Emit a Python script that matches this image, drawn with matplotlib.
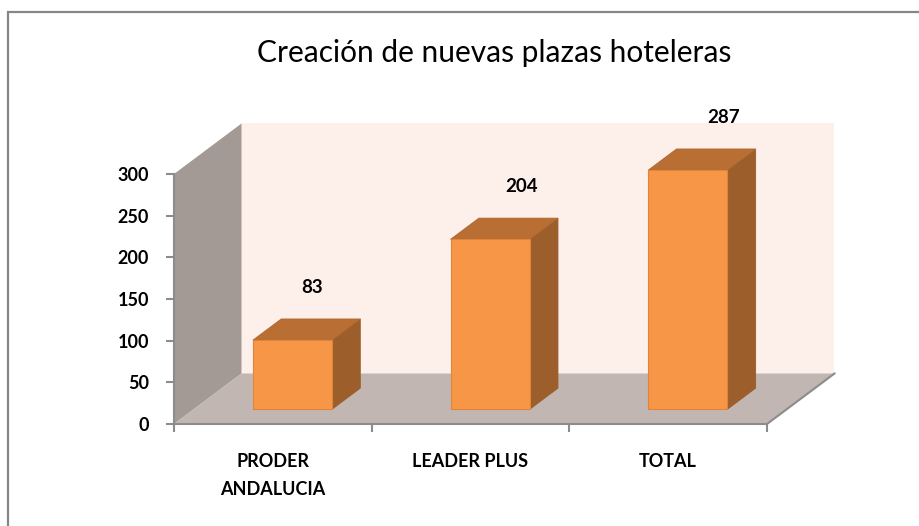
import matplotlib
matplotlib.use("Agg")
import matplotlib.pyplot as plt
from matplotlib.patches import Polygon, Rectangle

# ---- data ----
categories = ["PRODER\nANDALUCIA", "LEADER PLUS", "TOTAL"]
values = [83, 204, 287]
y_ticks = [0, 50, 100, 150, 200, 250, 300]
title = "Creación de nuevas plazas hoteleras"

# ---- layout (pixels) ----
W, H = 920, 526
FX0, FX1 = 174, 767          # front plane left/right
FY0, FY1 = 424, 174          # front plane y of 0 and 300 (from top)
YMAX = 300
PX_PER_CAT = (FX1 - FX0) / len(categories)
PX_PER_VAL = (FY0 - FY1) / YMAX
DX = 67.5 / PX_PER_CAT       # depth offset in data units
DY = 50.5 / PX_PER_VAL
D0, D1 = 0.29, 0.71          # bar depth span (fraction)
BW = 0.40                    # bar width (category units)
label_dx_px = [20, 31, 36]
label_dy_px = 47.5

plt.rcParams['font.family'] = ['Lato', 'DejaVu Sans']

fig = plt.figure(figsize=(W / 100, H / 100), dpi=100)
fig.patch.set_facecolor('white')
ax = fig.add_axes([FX0 / W, 1 - FY0 / H, (FX1 - FX0) / W, (FY0 - FY1) / H])
ax.set_xlim(-0.5, len(categories) - 0.5)
ax.set_ylim(0, YMAX)
ax.patch.set_visible(False)

xl, xr = -0.5, len(categories) - 0.5
back_c, floor_c, wall_c = '#FDEFEA', '#C1B6B2', '#A39A95'
# back wall
ax.add_patch(Polygon([(xl + DX, DY), (xr + DX, DY), (xr + DX, YMAX + DY), (xl + DX, YMAX + DY)],
                     closed=True, fc=back_c, ec='none', clip_on=False, zorder=0))
# left wall
ax.add_patch(Polygon([(xl, 0), (xl + DX, DY), (xl + DX, YMAX + DY), (xl, YMAX)],
                     closed=True, fc=wall_c, ec='none', clip_on=False, zorder=0.5))
# floor
ax.add_patch(Polygon([(xl, 0), (xr, 0), (xr + DX, DY), (xl + DX, DY)],
                     closed=True, fc=floor_c, ec='none', clip_on=False, zorder=0.6))
ax.plot([xr, xr + DX], [0, DY], color='#8C8C8C', lw=1.5, clip_on=False, zorder=0.7)

front_c, top_c, side_c = '#F79646', '#B96E33', '#9C5F2B'
edge_c = '#E0843C'
for i, v in enumerate(values):
    a = i - BW / 2
    b = i + BW / 2
    fx, fy = D0 * DX, D0 * DY
    bx, by = D1 * DX, D1 * DY
    # side
    ax.add_patch(Polygon([(b + fx, fy), (b + bx, by), (b + bx, v + by), (b + fx, v + fy)],
                         closed=True, fc=side_c, ec='#9A5C28', lw=0.6, clip_on=False, zorder=2))
    # top
    ax.add_patch(Polygon([(a + fx, v + fy), (b + fx, v + fy), (b + bx, v + by), (a + bx, v + by)],
                         closed=True, fc=top_c, ec='#B0682F', lw=0.6, clip_on=False, zorder=2))
    # front
    ax.add_patch(Rectangle((a + fx, fy), BW, v, fc=front_c, ec=edge_c, lw=0.8,
                           clip_on=False, zorder=3))
    ax.text(i + fx + label_dx_px[i] / PX_PER_CAT, v + fy + label_dy_px / PX_PER_VAL, str(v),
            ha='center', va='baseline', fontsize=13.5, fontweight='bold', color='black',
            clip_on=False, zorder=4)

# axes styling
for s in ['top', 'right']:
    ax.spines[s].set_visible(False)
for s in ['left', 'bottom']:
    ax.spines[s].set_color('#8C8C8C')
    ax.spines[s].set_linewidth(1.5)
    ax.spines[s].set_zorder(1)

ax.set_yticks(y_ticks)
ax.set_yticklabels([str(t) for t in y_ticks], fontsize=13, fontweight='bold')
ax.tick_params(axis='y', length=6, width=1.5, color='#8C8C8C', pad=12)

ax.set_xticks(range(len(categories)))
ax.set_xticklabels(categories, fontsize=13, fontweight='bold', linespacing=1.8)
ax.set_xticks([k - 0.5 for k in range(len(categories) + 1)], minor=True)
ax.tick_params(axis='x', which='major', length=0, pad=21)
ax.tick_params(axis='x', which='minor', length=6, width=1.5, color='#8C8C8C')

fig.text(494 / W, 1 - 62 / H, title, ha='center', va='baseline', fontsize=21.5, color='black')

# outer chart border
fig.add_artist(Rectangle((8 / W, -0.2), 1.2, 1 - 12 / H + 0.2, transform=fig.transFigure,
                         fc='none', ec='#868686', lw=1.6))

fig.savefig('out.png', dpi=100)
